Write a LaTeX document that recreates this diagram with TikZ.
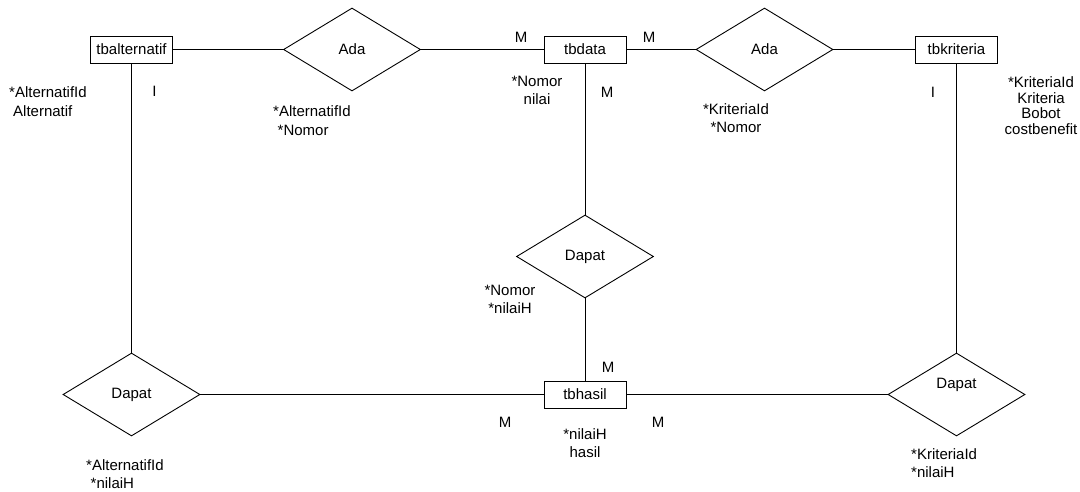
\documentclass[tikz,border=0pt]{standalone}
\usepackage{fontspec}
\setmainfont{Liberation Sans}
\usetikzlibrary{shapes.geometric}
\begin{document}
\begin{tikzpicture}[x=1pt,y=-1pt,
  every node/.style={font=\fontsize{15}{18.5}\selectfont},
  ent/.style={draw, line width=0.9pt, minimum width=82pt, minimum height=27pt, inner sep=0pt},
  rel/.style={diamond, draw, line width=0.9pt, minimum width=137pt, minimum height=83pt, inner sep=0pt},
  lbl/.style={inner sep=0pt},
  conn/.style={line width=0.9pt}]
\path[use as bounding box, fill=white] (0,0) rectangle (1080,491);

% entities
\node[ent] (ta) at (131.5,49.5) {tbalternatif};
\node[ent] (td) at (585,49.5) {tbdata};
\node[ent] (tk) at (956.5,49.5) {tbkriteria};
\node[ent] (th) at (585,394.5) {tbhasil};

% relationships
\node[rel] (ada1) at (352,49.5) {Ada};
\node[rel] (ada2) at (764.5,49.5) {Ada};
\node[rel] (dm) at (585,256.5) {Dapat};
\node[rel] (dl) at (131.5,394.5) {Dapat};
\node[rel, label={[lbl, yshift=10pt]center:Dapat}] (dr) at (956.5,394.5) {};

% connectors
\draw[conn] (ta.east) -- (ada1.west);
\draw[conn] (ada1.east) -- (td.west);
\draw[conn] (td.east) -- (ada2.west);
\draw[conn] (ada2.east) -- (tk.west);
\draw[conn] (ta.south) -- (dl.north);
\draw[conn] (dl.east) -- (th.west);
\draw[conn] (td.south) -- (dm.north);
\draw[conn] (dm.south) -- (th.north);
\draw[conn] (tk.south) -- (dr.north);
\draw[conn] (dr.west) -- (th.east);

% attribute labels
\node[lbl, anchor=west, align=left, font=\fontsize{15}{19}\selectfont] (a1) at (9,102) {*AlternatifId\\\hspace*{4pt}Alternatif};
\node[lbl] (c1) at (154.5,91.5) {I};
\node[lbl, anchor=west, align=left, font=\fontsize{15}{19}\selectfont] (a2) at (273,121) {*AlternatifId\\\hspace*{4.5pt}*Nomor};
\node[lbl] (c2) at (521,37) {M};
\node[lbl] (c3) at (649,37) {M};
\node[lbl, align=center, font=\fontsize{15}{17.5}\selectfont] (a3) at (537,90.5) {*Nomor\\nilai};
\node[lbl] (c4) at (607,92) {M};
\node[lbl, align=center, font=\fontsize{15}{18}\selectfont] (a4) at (736,118) {*KriteriaId\\*Nomor};
\node[lbl] (c5) at (933,92) {I};
\node[lbl, align=center, font=\fontsize{15}{15.7}\selectfont] (a5) at (1041,105.5) {*KriteriaId\\Kriteria\\Bobot\\costbenefit};
\node[lbl, align=center, font=\fontsize{15}{18}\selectfont] (a6) at (510,299) {*Nomor\\*nilaiH};
\node[lbl] (c6) at (608,367) {M};
\node[lbl] (c7) at (505,422) {M};
\node[lbl] (c8) at (658,422) {M};
\node[lbl, align=center, font=\fontsize{15}{18.5}\selectfont] (a7) at (585,443) {*nilaiH\\hasil};
\node[lbl, anchor=west, align=left, font=\fontsize{15}{18.3}\selectfont] (a8) at (86,474) {*AlternatifId\\\hspace*{4.5pt}*nilaiH};
\node[lbl, anchor=west, align=left, font=\fontsize{15}{17.7}\selectfont] (a9) at (911,463) {*KriteriaId\\*nilaiH};
\end{tikzpicture}
\end{document}
